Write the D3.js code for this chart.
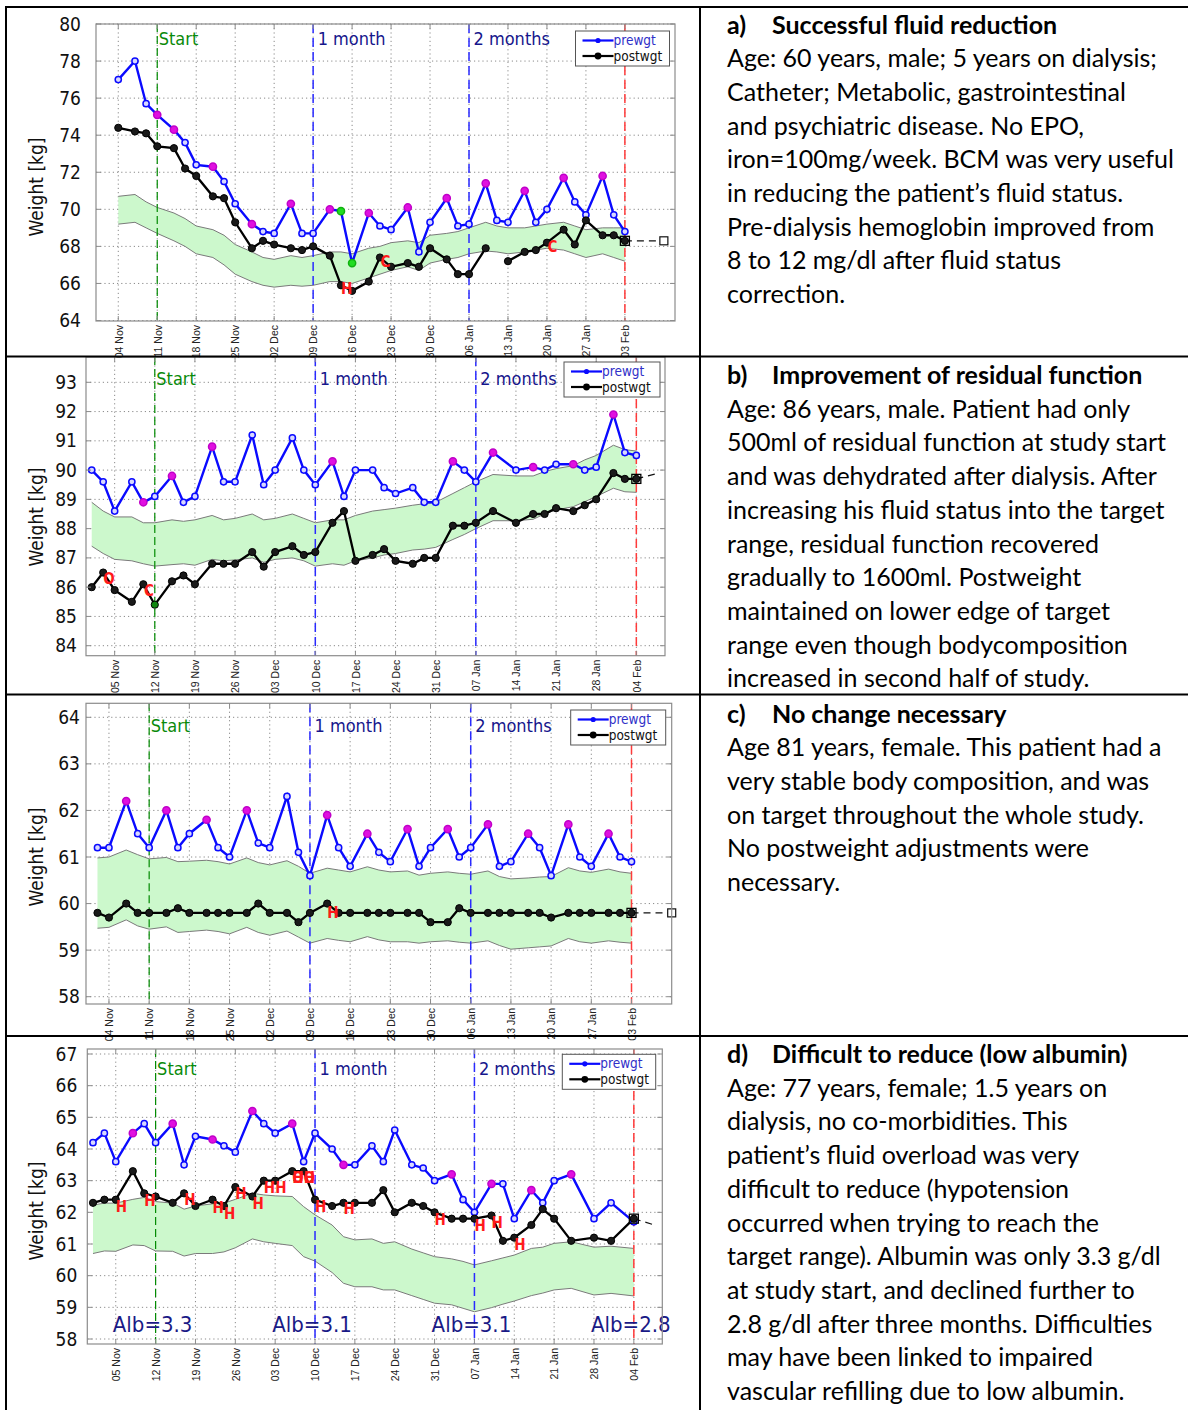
<!DOCTYPE html>
<html>
<head>
<meta charset="utf-8">
<script src="https://cdn.jsdelivr.net/npm/d3@7"></script>
<style>
  body { margin: 0; background: #fff; }
  svg { display: block; }
</style>
</head>
<body>
<svg id="fig" width="1188" height="1410"></svg>
<script>
// ---------- Patient a) Successful fluid reduction ----------
const datesA = ["11-04","11-07","11-09","11-11","11-14","11-16","11-18","11-21","11-23","11-25",
                "11-28","11-30","12-02","12-05","12-07","12-09","12-12","12-14","12-16","12-19",
                "12-21","12-23","12-26","12-28","12-30","01-02","01-04","01-06","01-09","01-11",
                "01-13","01-16","01-18","01-20","01-23","01-25","01-27","01-30","02-01","02-03"];
const preA  = [77.0,78.0,75.7,75.1,74.3,73.6,72.4,72.3,71.5,70.3,
               69.2,68.8,68.7,70.3,68.7,68.7,70.0,69.9,67.1,69.8,
               69.1,68.9,70.1,67.7,69.3,70.6,69.1,69.2,71.4,69.4,
               69.3,71.0,69.3,70.0,71.7,70.4,69.7,71.8,69.7,68.8];
const postA = [74.4,74.2,74.1,73.4,73.3,72.2,71.8,70.7,70.6,69.3,
               67.9,68.3,68.1,67.9,67.8,68.0,67.5,65.9,65.6,66.1,
               67.4,66.9,67.1,66.9,67.9,67.3,66.5,66.5,67.9,null,
               67.2,67.7,67.8,68.2,68.9,68.1,69.4,68.6,68.6,68.3];
const targetHiA = [70.7,70.8,70.4,70.1,69.8,69.5,69.1,68.9,68.6,68.1,
                   67.7,67.4,67.3,67.5,67.4,67.5,67.7,67.7,67.6,67.9,
                   68.0,68.2,68.3,68.2,68.6,68.7,68.8,69.0,69.3,69.1,
                   69.0,69.0,69.1,69.2,69.3,69.1,68.9,69.0,69.0,69.0];
const targetLoA = [69.2,69.3,69.0,68.7,68.3,68.0,67.6,67.4,67.0,66.5,
                   66.1,65.9,65.8,65.9,65.85,65.9,66.1,66.1,66.0,66.3,
                   66.5,66.7,66.9,66.7,67.1,67.3,67.4,67.6,67.75,67.7,
                   67.6,67.7,67.8,67.9,67.8,67.6,67.4,67.6,67.4,67.2];
const preMagentaA = ["11-11","11-14","11-21","11-28","12-05","12-12","12-19","12-26","01-02","01-09","01-16","01-23","01-30"];
const preGreenA = ["12-14","12-16"];
const postGreenA = [];
const notesA = [{d:"12-15", v:65.7, t:"H"}, {d:"12-22", v:67.2, t:"C"}, {d:"01-21", v:68.0, t:"C"}];
const projA = {d:"02-10", v:68.3, box:true};
const weeksA = ["11-04","11-11","11-18","11-25","12-02","12-09","12-16","12-23","12-30","01-06","01-13","01-20","01-27","02-03"];
const stagesA = ["11-11","12-09","01-06","02-03"];
const kgTicksA = [64,66,68,70,72,74,76,78,80];

// ---------- Patient b) Improvement of residual function ----------
const datesB = ["11-01","11-03","11-05","11-08","11-10","11-12","11-15","11-17","11-19","11-22",
                "11-24","11-26","11-29","12-01","12-03","12-06","12-08","12-10","12-13","12-15",
                "12-17","12-20","12-22","12-24","12-27","12-29","12-31","01-03","01-05","01-07",
                "01-10","01-14","01-17","01-19","01-21","01-24","01-26","01-28","01-31","02-02","02-04"];
const preB  = [90.0,89.6,88.6,89.6,88.9,89.1,89.8,88.9,89.1,90.8,
               89.6,89.6,91.2,89.5,90.0,91.1,90.0,89.5,90.3,89.1,
               90.0,90.0,89.4,89.2,89.4,88.9,88.9,90.3,90.0,89.6,
               90.6,90.0,90.1,90.0,90.2,90.2,90.0,90.1,91.9,90.6,90.5];
const postB = [86.0,86.5,85.9,85.5,86.1,85.4,86.2,86.4,86.1,86.8,
               86.8,86.8,87.2,86.7,87.2,87.4,87.1,87.2,88.2,88.6,
               86.9,87.1,87.3,86.9,86.8,87.0,87.0,88.1,88.1,88.2,
               88.6,88.2,88.5,88.5,88.7,88.6,88.8,89.0,89.9,89.7,89.7];
const targetHiB = [88.9,88.6,88.4,88.4,88.2,88.2,88.3,88.25,88.3,88.45,
                   88.3,88.35,88.5,88.3,88.35,88.5,88.35,88.2,88.3,88.3,
                   88.45,88.6,88.65,88.7,88.8,88.85,88.9,89.2,89.4,89.6,
                   89.85,89.8,89.8,89.95,90.05,90.15,90.35,90.5,90.85,90.7,90.65];
const targetLoB = [87.4,87.15,86.95,86.9,86.8,86.72,86.77,86.8,86.75,86.95,
                   86.9,86.93,87.0,86.85,86.95,87.0,86.9,86.72,86.8,86.75,
                   86.9,87.0,87.1,87.15,87.27,87.3,87.36,87.63,87.8,88.0,
                   88.27,88.27,88.32,88.5,88.64,88.75,88.92,89.1,89.38,89.26,89.24];
const preMagentaB = ["11-10","11-15","11-22","12-13","01-03","01-10","01-17","01-24","01-31"];
const preGreenB = [];
const postGreenB = ["11-12"];
const notesB = [{d:"11-04", v:86.28, t:"O"}, {d:"11-11", v:85.87, t:"C"}];
const projB = {d:"02-08", v:89.9, box:false};
const weeksB = ["11-05","11-12","11-19","11-26","12-03","12-10","12-17","12-24","12-31","01-07","01-14","01-21","01-28","02-04"];
const stagesB = ["11-12","12-10","01-07","02-04"];
const kgTicksB = [84,85,86,87,88,89,90,91,92,93];

// ---------- Patient c) No change necessary ----------
const datesC = ["11-02","11-04","11-07","11-09","11-11","11-14","11-16","11-18","11-21","11-23",
                "11-25","11-28","11-30","12-02","12-05","12-07","12-09","12-12","12-14","12-16",
                "12-19","12-21","12-23","12-26","12-28","12-30","01-02","01-04","01-06","01-09",
                "01-11","01-13","01-16","01-18","01-20","01-23","01-25","01-27","01-30","02-01","02-03"];
const preC  = [61.2,61.2,62.2,61.5,61.2,62.0,61.2,61.5,61.8,61.2,
               61.0,62.0,61.3,61.2,62.3,61.1,60.6,61.9,61.2,60.8,
               61.5,61.1,60.9,61.6,60.8,61.2,61.6,61.0,61.2,61.7,
               60.8,60.9,61.5,61.2,60.6,61.7,61.0,60.8,61.5,61.0,60.9];
const postC = [59.8,59.7,60.0,59.8,59.8,59.8,59.9,59.8,59.8,59.8,
               59.8,59.8,60.0,59.8,59.8,59.6,59.8,60.0,59.8,59.8,
               59.8,59.8,59.8,59.8,59.8,59.6,59.6,59.9,59.8,59.8,
               59.8,59.8,59.8,59.8,59.7,59.8,59.8,59.8,59.8,59.8,59.8];
const targetHiC = [60.98,61.0,61.15,61.05,60.96,60.99,60.9,60.91,60.93,60.9,
                   60.85,60.98,60.88,60.83,60.92,60.8,60.65,60.76,60.72,60.68,
                   60.79,60.72,60.68,60.7,60.61,60.65,60.68,60.65,60.63,60.7,
                   60.58,60.53,60.55,60.57,60.58,60.77,60.7,60.67,60.74,60.68,60.65];
const targetLoC = [59.47,59.49,59.65,59.52,59.45,59.5,59.38,59.4,59.43,59.4,
                   59.35,59.49,59.38,59.32,59.41,59.28,59.15,59.25,59.21,59.18,
                   59.29,59.22,59.18,59.18,59.15,59.18,59.2,59.17,59.15,59.2,
                   59.1,59.02,59.05,59.07,59.09,59.25,59.18,59.15,59.2,59.17,59.15];
const preMagentaC = ["11-07","11-14","11-21","11-28","12-12","12-19","12-26","01-02","01-09","01-16","01-23","01-30"];
const preGreenC = [];
const postGreenC = [];
const notesC = [{d:"12-13", v:59.8, t:"H"}];
const projC = {d:"02-10", v:59.8, box:true};
const weeksC = ["11-04","11-11","11-18","11-25","12-02","12-09","12-16","12-23","12-30","01-06","01-13","01-20","01-27","02-03"];
const stagesC = ["11-11","12-09","01-06","02-03"];
const kgTicksC = [58,59,60,61,62,63,64];

// ---------- Patient d) Difficult to reduce (low albumin) ----------
const datesD = ["11-01","11-03","11-05","11-08","11-10","11-12","11-15","11-17","11-19","11-22",
                "11-24","11-26","11-29","12-01","12-03","12-06","12-08","12-10","12-13","12-15",
                "12-17","12-20","12-22","12-24","12-27","12-29","12-31","01-03","01-05","01-07",
                "01-10","01-12","01-14","01-17","01-19","01-21","01-24","01-28","01-31","02-04"];
const preD  = [64.2,64.5,63.6,64.5,64.8,64.2,64.8,63.5,64.4,64.3,
               64.1,63.9,65.2,64.8,64.5,64.8,63.6,64.5,64.0,63.5,
               63.5,64.1,63.6,64.6,63.5,63.4,63.0,63.2,62.4,62.0,
               62.9,62.9,61.8,62.7,62.3,63.0,63.2,61.8,62.3,61.7];
const postD = [62.3,62.4,62.4,63.3,62.6,62.5,62.3,62.6,62.2,62.4,
               62.2,62.8,62.5,63.0,63.0,63.3,63.3,62.4,62.2,62.3,
               62.3,62.3,62.7,62.0,62.3,62.2,62.0,61.8,61.8,61.8,
               61.9,61.1,61.2,61.6,62.1,61.8,61.1,61.2,61.1,61.8];
const targetHiD = [62.23,62.29,62.29,62.41,62.47,62.34,62.29,62.1,62.2,62.27,
                   62.29,62.41,62.6,62.55,62.52,62.5,62.18,61.92,61.6,61.23,
                   61.13,61.16,61.02,61.07,60.84,60.72,60.6,60.53,60.45,60.34,
                   60.47,60.56,60.65,60.86,60.9,61.02,61.07,60.9,60.93,60.86];
const targetLoD = [60.7,60.78,60.77,60.97,60.95,60.78,60.77,60.62,60.7,60.7,
                   60.75,60.88,61.16,61.07,61.02,60.95,60.6,60.46,60.1,59.76,
                   59.65,59.65,59.55,59.55,59.37,59.25,59.13,59.08,58.97,58.86,
                   58.99,59.1,59.2,59.37,59.45,59.55,59.6,59.39,59.44,59.36];
const preMagentaD = ["11-08","11-15","11-22","11-29","12-06","12-15","01-03","01-10","01-17","01-24"];
const preGreenD = [];
const postGreenD = [];
const notesD = [
  {d:"11-06", v:62.18, t:"H"}, {d:"11-11", v:62.37, t:"H"}, {d:"11-18", v:62.39, t:"H"},
  {d:"11-23", v:62.15, t:"H"}, {d:"11-25", v:61.97, t:"H"}, {d:"11-27", v:62.6, t:"H"},
  {d:"11-30", v:62.29, t:"H"}, {d:"12-02", v:62.78, t:"H"}, {d:"12-04", v:62.78, t:"H"},
  {d:"12-07", v:63.1, t:"O"}, {d:"12-07", v:63.1, t:"H"}, {d:"12-09", v:63.1, t:"O"}, {d:"12-09", v:63.1, t:"H"},
  {d:"12-11", v:62.18, t:"H"}, {d:"12-16", v:62.13, t:"H"}, {d:"01-01", v:61.78, t:"H"},
  {d:"01-08", v:61.58, t:"H"}, {d:"01-11", v:61.69, t:"H"}, {d:"01-15", v:60.97, t:"H"}
];
const projD = {d:"02-08", v:61.58, box:false};
const albuminD = [{d:"11-12", g:"3.3"}, {d:"12-10", g:"3.1"}, {d:"01-07", g:"3.1"}, {d:"02-04", g:"2.8"}];
const weeksD = ["11-05","11-12","11-19","11-26","12-03","12-10","12-17","12-24","12-31","01-07","01-14","01-21","01-28","02-04"];
const stagesD = ["11-12","12-10","01-07","02-04"];
const kgTicksD = [58,59,60,61,62,63,64,65,66,67];

const stageNames = ["Start", "1 month", "2 months", null];

// ---------- Case descriptions ----------
const textA = ["a)", "Successful fluid reduction", [
  "Age: 60 years, male; 5 years on dialysis;",
  "Catheter; Metabolic, gastrointestinal",
  "and psychiatric disease. No EPO,",
  "iron=100mg/week. BCM was very useful",
  "in reducing the patient\u2019s fluid status.",
  "Pre-dialysis hemoglobin improved from",
  "8 to 12 mg/dl after fluid status",
  "correction."]];
const textB = ["b)", "Improvement of residual function", [
  "Age: 86 years, male. Patient had only",
  "500ml of residual function at study start",
  "and was dehydrated after dialysis. After",
  "increasing his fluid status into the target",
  "range, residual function recovered",
  "gradually to 1600ml. Postweight",
  "maintained on lower edge of target",
  "range even though bodycomposition",
  "increased in second half of study."]];
const textC = ["c)", "No change necessary", [
  "Age 81 years, female. This patient had a",
  "very stable body composition, and was",
  "on target throughout the whole study.",
  "No postweight adjustments were",
  "necessary."]];
const textD = ["d)", "Difficult to reduce (low albumin)", [
  "Age: 77 years, female; 1.5 years on",
  "dialysis, no co-morbidities. This",
  "patient\u2019s fluid overload was very",
  "difficult to reduce (hypotension",
  "occurred when trying to reach the",
  "target range). Albumin was only 3.3 g/dl",
  "at study start, and declined further to",
  "2.8 g/dl after three months. Difficulties",
  "may have been linked to impaired",
  "vascular refilling due to low albumin."]];

// ---------- helpers ----------
const day = s => { const [m, d] = s.split("-").map(Number); return new Date(m >= 10 ? 2009 : 2010, m - 1, d); };
const svg = d3.select("#fig");
const AX_FONT = "'DejaVu Sans Condensed', 'DejaVu Sans', sans-serif";

// Plot frames (pixel layout) and the calibration of each weight axis.
const layouts = [
  {left: 96,   right: 675,   top: 24,    bottom: 321,  x0: "10-31", x1: "02-12", kg: [64, 80], kgPx: [320.5, 24],
   labelGap: 15, ylabelY: 187, stageBase: 45,  legend: [575.5, 31, 94, 35]},
  {left: 86,   right: 665,   top: 357,   bottom: 655.7, x0: "10-31", x1: "02-09", kg: [84, 93], kgPx: [645.7, 382.3],
   labelGap: 9,  ylabelY: 517, stageBase: 385, legend: [564, 362, 96, 35]},
  {left: 86,   right: 671.7, top: 703.3, bottom: 1004, x0: "10-31", x1: "02-10", kg: [58, 64], kgPx: [996.7, 717.3],
   labelGap: 6,  ylabelY: 857, stageBase: 732, legend: [570.7, 710, 95, 35]},
  {left: 87.3, right: 662.3, top: 1049,  bottom: 1344, x0: "10-31", x1: "02-09", kg: [58, 67], kgPx: [1339, 1054],
   labelGap: 10, ylabelY: 1211, stageBase: 1075, legend: [562.3, 1054.3, 93.4, 35]}
];

const panels = [
  {dates: datesA, pre: preA, post: postA, hi: targetHiA, lo: targetLoA, mag: preMagentaA, preG: preGreenA, postG: postGreenA,
   notes: notesA, proj: projA, weeks: weeksA, stages: stagesA, kgTicks: kgTicksA},
  {dates: datesB, pre: preB, post: postB, hi: targetHiB, lo: targetLoB, mag: preMagentaB, preG: preGreenB, postG: postGreenB,
   notes: notesB, proj: projB, weeks: weeksB, stages: stagesB, kgTicks: kgTicksB},
  {dates: datesC, pre: preC, post: postC, hi: targetHiC, lo: targetLoC, mag: preMagentaC, preG: preGreenC, postG: postGreenC,
   notes: notesC, proj: projC, weeks: weeksC, stages: stagesC, kgTicks: kgTicksC},
  {dates: datesD, pre: preD, post: postD, hi: targetHiD, lo: targetLoD, mag: preMagentaD, preG: preGreenD, postG: postGreenD,
   notes: notesD, proj: projD, weeks: weeksD, stages: stagesD, kgTicks: kgTicksD, albumin: albuminD}
];

function drawPanel(P, L) {
  const g = svg.append("g");
  const x = d3.scaleTime().domain([day(L.x0), day(L.x1)]).range([L.left, L.right]);
  const y = d3.scaleLinear().domain(L.kg).range(L.kgPx);
  const rows = P.dates.map((s, i) => ({t: day(s), key: s, pre: P.pre[i], post: P.post[i], hi: P.hi[i], lo: P.lo[i]}));
  const weekDates = P.weeks.map(day);

  // dotted grid
  const grid = g.append("g").attr("stroke", "#8a8a8a").attr("stroke-width", 1).attr("stroke-dasharray", "1.2,3");
  grid.selectAll("line.h").data(P.kgTicks).join("line").attr("class", "h")
    .attr("x1", L.left).attr("x2", L.right).attr("y1", d => y(d)).attr("y2", d => y(d));
  grid.selectAll("line.v").data(weekDates).join("line").attr("class", "v")
    .attr("x1", d => x(d)).attr("x2", d => x(d)).attr("y1", L.top).attr("y2", L.bottom);

  // target range band
  g.append("path").datum(rows)
    .attr("d", d3.area().x(d => x(d.t)).y0(d => y(d.lo)).y1(d => y(d.hi)))
    .attr("fill", "#ccf8cc").attr("stroke", "none");
  ["hi", "lo"].forEach(k => g.append("path").datum(rows)
    .attr("d", d3.line().x(d => x(d.t)).y(d => y(d[k])))
    .attr("fill", "none").attr("stroke", "#7a7a7a").attr("stroke-width", 1));

  // study stage markers
  const stageStyle = [["#008a00", 1.2, "8,4"], ["#2a2aff", 1.5, "9,5"], ["#2a2aff", 1.5, "9,5"], ["#ff3b3b", 1.5, "9,5"]];
  P.stages.forEach((s, i) => {
    const xs = x(day(s));
    g.append("line").attr("x1", xs).attr("x2", xs).attr("y1", L.top).attr("y2", L.bottom)
      .attr("stroke", stageStyle[i][0]).attr("stroke-width", stageStyle[i][1]).attr("stroke-dasharray", stageStyle[i][2]);
    if (stageNames[i]) {
      g.append("text").attr("x", xs + (i === 0 ? 1.5 : 4.5)).attr("y", L.stageBase).text(stageNames[i])
        .attr("font-family", AX_FONT).attr("font-size", 18)
        .attr("fill", i === 0 ? "#0a8a0a" : "#16168c");
    }
  });

  // post-weight projection beyond the study end
  const last = rows[rows.length - 1];
  g.append("line").attr("x1", x(last.t)).attr("y1", y(last.post))
    .attr("x2", x(day(P.proj.d))).attr("y2", y(P.proj.v))
    .attr("stroke", "#111").attr("stroke-width", 1.2).attr("stroke-dasharray", "7,5");
  if (P.proj.box) {
    g.append("rect").attr("x", x(day(P.proj.d)) - 4).attr("y", y(P.proj.v) - 4).attr("width", 8).attr("height", 8)
      .attr("fill", "#fff").attr("stroke", "#111").attr("stroke-width", 1.2);
  }

  // pre- and post-dialysis weight lines
  g.append("path").datum(rows.filter(d => d.pre != null))
    .attr("d", d3.line().x(d => x(d.t)).y(d => y(d.pre)))
    .attr("fill", "none").attr("stroke", "#0a0aff").attr("stroke-width", 2.4);
  g.append("path").datum(rows)
    .attr("d", d3.line().defined(d => d.post != null).x(d => x(d.t)).y(d => y(d.post)))
    .attr("fill", "none").attr("stroke", "#000").attr("stroke-width", 2.3);

  // markers
  g.selectAll("circle.pre").data(rows.filter(d => d.pre != null)).join("circle").attr("class", "pre")
    .attr("cx", d => x(d.t)).attr("cy", d => y(d.pre))
    .attr("r", d => (P.mag.includes(d.key) || P.preG.includes(d.key)) ? 3.6 : 3.1)
    .attr("fill", d => P.mag.includes(d.key) ? "#e010e0" : P.preG.includes(d.key) ? "#22dd22" : "#d8d8ff")
    .attr("stroke", d => P.mag.includes(d.key) ? "#c000c8" : P.preG.includes(d.key) ? "#10b010" : "#0a0aff")
    .attr("stroke-width", 1.5);
  g.selectAll("circle.post").data(rows.filter(d => d.post != null)).join("circle").attr("class", "post")
    .attr("cx", d => x(d.t)).attr("cy", d => y(d.post)).attr("r", 3.6)
    .attr("fill", d => P.postG.includes(d.key) ? "#118811" : "#1a1a1a")
    .attr("stroke", "#000").attr("stroke-width", 1);
  g.append("rect").attr("x", x(last.t) - 4.5).attr("y", y(last.post) - 4.5).attr("width", 9).attr("height", 9)
    .attr("fill", "none").attr("stroke", "#000").attr("stroke-width", 1.3);

  // event letters
  g.selectAll("text.note").data(P.notes).join("text").attr("class", "note")
    .attr("x", d => x(day(d.d))).attr("y", d => y(d.v)).attr("dy", "0.36em")
    .attr("text-anchor", "middle").attr("font-family", AX_FONT).attr("font-weight", "bold")
    .attr("font-size", 15).attr("fill", "#ff1a1a").text(d => d.t);

  // albumin readings
  if (P.albumin) {
    g.selectAll("text.alb").data(P.albumin).join("text").attr("class", "alb")
      .attr("x", d => x(day(d.d)) - 3).attr("y", L.bottom - 12)
      .attr("text-anchor", "middle").attr("font-family", AX_FONT).attr("font-size", 22)
      .attr("fill", "#1a1a86").text(d => "Alb=" + d.g);
  }

  // frame with inward ticks
  g.append("rect").attr("x", L.left).attr("y", L.top).attr("width", L.right - L.left).attr("height", L.bottom - L.top)
    .attr("fill", "none").attr("stroke", "#8c8c8c").attr("stroke-width", 1.2);
  const tk = g.append("g").attr("stroke", "#8c8c8c").attr("stroke-width", 1);
  P.kgTicks.forEach(v => {
    tk.append("line").attr("x1", L.left).attr("x2", L.left + 5).attr("y1", y(v)).attr("y2", y(v));
    tk.append("line").attr("x1", L.right - 5).attr("x2", L.right).attr("y1", y(v)).attr("y2", y(v));
  });
  weekDates.forEach(d => {
    tk.append("line").attr("x1", x(d)).attr("x2", x(d)).attr("y1", L.bottom - 5).attr("y2", L.bottom);
    tk.append("line").attr("x1", x(d)).attr("x2", x(d)).attr("y1", L.top).attr("y2", L.top + 5);
  });

  // axes
  const gy = g.append("g").attr("transform", `translate(${L.left},0)`)
    .call(d3.axisLeft(y).tickValues(P.kgTicks).tickSize(0).tickPadding(L.labelGap).tickFormat(d3.format("d")));
  gy.select(".domain").remove();
  gy.selectAll("text").attr("font-family", AX_FONT).attr("font-size", 19).attr("fill", "#111");

  const gx = g.append("g").attr("transform", `translate(0,${L.bottom})`)
    .call(d3.axisBottom(x).tickValues(weekDates).tickSize(0).tickFormat(d3.timeFormat("%d %b")));
  gx.select(".domain").remove();
  gx.selectAll("text").attr("transform", "rotate(-90)").attr("x", -4).attr("y", 0).attr("dy", "0.36em")
    .attr("text-anchor", "end").attr("font-family", "'Liberation Sans', Arial, sans-serif")
    .attr("font-size", 10.5).attr("fill", "#222");

  g.append("text").attr("transform", `translate(36,${L.ylabelY}) rotate(-90)`).attr("dy", "0.36em")
    .attr("text-anchor", "middle").attr("font-family", AX_FONT).attr("font-size", 19).attr("fill", "#111")
    .text("Weight [kg]");

  // legend
  const [lx, ly, lw, lh] = L.legend;
  const lg = g.append("g");
  lg.append("rect").attr("x", lx).attr("y", ly).attr("width", lw).attr("height", lh)
    .attr("fill", "#fff").attr("stroke", "#555").attr("stroke-width", 1);
  const items = [["prewgt", "#0a0aff", "#3030c8", 9.5], ["postwgt", "#000", "#111", 25]];
  items.forEach(([name, c, tc, dy]) => {
    lg.append("line").attr("x1", lx + 7).attr("x2", lx + 38).attr("y1", ly + dy).attr("y2", ly + dy)
      .attr("stroke", c).attr("stroke-width", 2.2);
    lg.append("circle").attr("cx", lx + 22.5).attr("cy", ly + dy).attr("r", name === "prewgt" ? 2.6 : 3.4).attr("fill", c);
    lg.append("text").attr("x", lx + 38).attr("y", ly + dy + 4.5).text(name)
      .attr("font-family", AX_FONT).attr("font-size", 13.5).attr("fill", tc);
  });
}

panels.forEach((P, i) => drawPanel(P, layouts[i]));

// ---------- description column ----------
const textBlocks = [[textA, 33.5], [textB, 384], [textC, 722.5], [textD, 1063]];
const TXT_FONT = "Lato, 'Open Sans', sans-serif";
textBlocks.forEach(([[tag, title, lines], base]) => {
  const tg = svg.append("g").attr("font-family", TXT_FONT).attr("fill", "#000");
  tg.append("text").attr("x", 727).attr("y", base).attr("font-weight", "bold").attr("font-size", 25).text(tag);
  tg.append("text").attr("x", 772).attr("y", base).attr("font-weight", "bold").attr("font-size", 25).text(title);
  tg.selectAll("text.ln").data(lines).join("text").attr("class", "ln")
    .attr("x", 727).attr("y", (d, i) => base + 33.7 * (i + 1)).attr("font-size", 25).text(d => d);
});

// ---------- table rules ----------
const rules = svg.append("g").attr("stroke", "#000").attr("stroke-width", 2);
[7, 356.5, 694.5, 1036].forEach(yy => rules.append("line").attr("x1", 5).attr("x2", 1188).attr("y1", yy).attr("y2", yy));
[6, 700].forEach(xx => rules.append("line").attr("x1", xx).attr("x2", xx).attr("y1", 6).attr("y2", 1410));
</script>
</body>
</html>
